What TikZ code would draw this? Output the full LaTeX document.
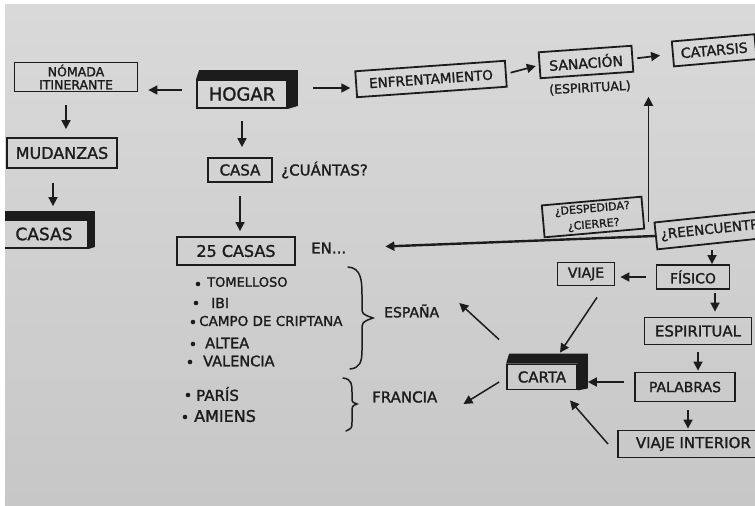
\documentclass[tikz,border=0pt]{standalone}
\usepackage{fontspec}
\setmainfont{DejaVu Sans}[UprightFeatures={FakeBold=1.5}]
\usetikzlibrary{arrows.meta,calc}
\definecolor{paper}{HTML}{D9D9D9}
\definecolor{paperdark}{HTML}{C7C7C7}
\definecolor{ink}{HTML}{1C1C1C}
\newcommand\fz[1]{\fontsize{#1}{#1}\selectfont}
\begin{document}
\begin{tikzpicture}[x=1pt,y=-1pt,
  box/.style={draw=ink, line width=1.8pt, inner sep=2pt, text=ink},
  lbl/.style={inner sep=0pt, text=ink},
  arr/.style={draw=ink, line width=1.7pt, -{Triangle[length=9pt,width=9pt]}},
  thinarr/.style={draw=ink, line width=1.5pt, -{Triangle[length=9pt,width=9pt]}},
  shadowfill/.style={fill=ink}]
\useasboundingbox (0,0) rectangle (755,506);
\fill[white] (0,0) rectangle (755,506);
\shade[top color=paper, bottom color=paperdark] (5,4) rectangle (755,506);

% ---------- left column ----------
\node[box, minimum width=123pt, minimum height=29pt, inner ysep=0pt, font=\fz{12.5}, align=center] (nomada) at (76,77) {NÓMADA\\[0.5pt]ITINERANTE};
\node[box, minimum width=110pt, minimum height=30pt, font=\fz{16}] (mudanzas) at (62,153) {MUDANZAS};
\node[box, minimum width=88pt, minimum height=28pt, font=\fz{17}] (casasl) at (44,234) {CASAS};
\fill[shadowfill] (casasl.north west) -- ([yshift=8pt]casasl.north west) -- ([xshift=6pt,yshift=8pt]casasl.north east) -- ([xshift=6pt,yshift=2pt]casasl.south east) -- (casasl.south east) -- (casasl.north east) -- cycle;

% ---------- top row ----------
\node[box, minimum width=90pt, minimum height=28pt, font=\fz{18}] (hogar) at (242,94) {HOGAR};
\fill[shadowfill] (hogar.north west) -- ([xshift=3pt,yshift=9pt]hogar.north west) -- ([xshift=10pt,yshift=9pt]hogar.north east) -- ([xshift=10pt,yshift=3pt]hogar.south east) -- (hogar.south east) -- (hogar.north east) -- cycle;
\node[box, rotate=4, minimum width=150pt, minimum height=26pt, font=\fz{13.5}] (enfr) at (431,79) {ENFRENTAMIENTO};
\node[box, rotate=4, minimum width=93pt, minimum height=26pt, font=\fz{14}] (sanacion) at (586,62) {SANACIÓN};
\node[lbl, rotate=3, font=\fz{12.5}] (espl) at (590,88) {(ESPIRITUAL)};
\node[box, rotate=5, anchor=west, minimum height=25pt, inner xsep=8pt, font=\fz{14}] (catarsis) at (672,54) {CATARSIS\hspace{30pt}};

% ---------- centre column ----------
\node[box, minimum width=64pt, minimum height=24pt, font=\fz{15}] (casa) at (240,170) {CASA};
\node[lbl, anchor=west, font=\fz{15}] (cuantas) at (281,170) {¿CUÁNTAS?};
\node[box, minimum width=118pt, minimum height=28pt, font=\fz{16}] (casas25) at (236,251) {25 CASAS};
\node[lbl, anchor=west, font=\fz{15}] (en) at (311,248) {EN...};

% ---------- lists ----------
\node[lbl, anchor=west, font=\fz{13}] (tom) at (207,282) {TOMELLOSO};
\node[lbl, anchor=west, font=\fz{14}] (ibi) at (211,303) {IBI};
\node[lbl, anchor=west, font=\fz{13.5}] (campo) at (199,321) {CAMPO DE CRIPTANA};
\node[lbl, anchor=west, font=\fz{14.5}] (altea) at (205,343) {ALTEA};
\node[lbl, anchor=west, font=\fz{14.5}] (valencia) at (203,361) {VALENCIA};
\node[lbl, anchor=west, font=\fz{15}] (paris) at (196,394) {PARÍS};
\node[lbl, anchor=west, font=\fz{16}] (amiens) at (194,416) {AMIENS};
\foreach \p in {(198,284),(196,303),(193,322),(193,344),(190,362),(188,395),(185,417)}
  \fill[ink] \p circle (2.3pt);
\node[lbl, anchor=west, font=\fz{14}] (espana) at (384,311) {ESPAÑA};
\node[lbl, anchor=west, font=\fz{15}] (francia) at (372,397) {FRANCIA};
% braces
\draw[ink, line width=1.5pt, line cap=round] (348,267) .. controls (361,268) and (362,280) .. (362,295) -- (362,307) .. controls (362,314) .. (373,318) .. controls (362,322) .. (362,331) -- (362,350) .. controls (362,362) and (360,368) .. (350,369);
\draw[ink, line width=1.5pt, line cap=round] (343,378) .. controls (352,379) and (352,385) .. (352,392) -- (352,398) .. controls (352,402) .. (357,404) .. controls (352,406) .. (352,412) -- (352,422) .. controls (352,428) .. (346,431);

% ---------- right column ----------
\node[box, rotate=5, minimum width=100pt, minimum height=32pt, inner ysep=1pt, font=\fz{11}, align=center] (despedida) at (593,217) {¿DESPEDIDA?\\[5pt]¿CIERRE?};
\node[box, rotate=6, anchor=west, minimum height=27pt, inner xsep=5pt, font=\fz{13.5}] (reenc) at (655,236) {¿REENCUENTRO?};
\node[box, minimum width=73pt, minimum height=24pt, font=\fz{14}] (fisico) at (693,277) {FÍSICO};
\node[box, minimum width=57pt, minimum height=23pt, font=\fz{14}] (viaje) at (586,274) {VIAJE};
\node[box, minimum width=107pt, minimum height=27pt, font=\fz{15}] (espiritual) at (698,331) {ESPIRITUAL};
\node[box, minimum width=100pt, minimum height=29pt, font=\fz{14}] (palabras) at (685,387) {PALABRAS};
\node[box, anchor=west, minimum height=27pt, inner xsep=18pt, font=\fz{15}] (viajeint) at (617,444) {VIAJE INTERIOR};
\node[box, minimum width=70pt, minimum height=25pt, font=\fz{15}] (carta) at (542,377) {CARTA};
\fill[shadowfill] (carta.north west) -- ([xshift=3pt,yshift=10pt]carta.north west) -- ([xshift=10pt,yshift=10pt]carta.north east) -- ([xshift=10pt,yshift=2pt]carta.south east) -- (carta.south east) -- (carta.north east) -- cycle;

% ---------- connectors ----------
\draw[arr, shorten <=14pt, shorten >=10pt] ([yshift=4pt]hogar.west) -- ([yshift=4pt]hogar.west -| nomada.east);
\draw[arr, shorten <=25pt, shorten >=5pt] ([yshift=6pt]hogar.east) -- ([yshift=6pt]hogar.east -| enfr.west);
\draw[arr, shorten <=4pt, shorten >=3pt] (enfr.east) -- (sanacion.west);
\draw[arr, shorten <=4pt, shorten >=12pt] (sanacion.east) -- (catarsis.west);
\draw[arr, shorten <=12pt, shorten >=10pt] (hogar.south) -- (hogar.south |- casa.north);
\draw[arr, shorten <=13pt, shorten >=5pt] (casa.south) -- (casa.south |- casas25.north);
\draw[arr, shorten <=13pt, shorten >=8pt] ([xshift=-10pt]nomada.south) -- ([xshift=-10pt]nomada.south |- mudanzas.north);
\draw[arr, shorten <=14pt, shorten >=13pt] ([xshift=-9pt]mudanzas.south) -- ([xshift=-9pt]mudanzas.south |- casasl.north);
\draw[arr, line width=2.4pt, shorten >=39pt] (reenc.west) -- (en.east);
\draw[arr, line width=1.8pt, shorten >=3pt] ([xshift=-5pt]reenc.north west) -- ([xshift=-5pt]reenc.north west |- espl.south);
\draw[arr] ([xshift=19pt]fisico.north |- reenc.south west) -- ([xshift=19pt]fisico.north);
\draw[arr, shorten <=10pt, shorten >=5pt] (fisico.west) -- (fisico.west -| viaje.east);
\draw[arr, shorten <=3pt, shorten >=5pt] ([xshift=22pt]fisico.south) -- ([xshift=22pt]fisico.south |- espiritual.north);
\draw[arr, shorten <=7pt, shorten >=1pt] (espiritual.south) -- (espiritual.south |- palabras.north);
\draw[arr, shorten <=10pt] ([yshift=5pt]palabras.west) -- ($([yshift=5pt]palabras.west -| carta.east)+(10,0)$);
\draw[arr, shorten <=8pt, shorten >=1pt] ([xshift=3pt]palabras.south) -- ([xshift=3pt]palabras.south |- viajeint.north);
\draw[thinarr] ([xshift=11pt,yshift=-11pt]viaje.south) -- ([xshift=18pt,yshift=11pt]carta.north);
\draw[thinarr] ([xshift=-9pt]viajeint.west) -- ([xshift=28pt,yshift=-10pt]carta.south);
\draw[thinarr] ([xshift=-7pt,yshift=24pt]carta.north west) -- ([xshift=20pt,yshift=8pt]espana.east);
\draw[thinarr] ([xshift=-7pt,yshift=-5pt]carta.west) -- ([xshift=26pt,yshift=-7pt]francia.east);

% white margins of the photo
\fill[white] (0,0) rectangle (5,506);
\fill[white] (0,0) rectangle (755,4);
\end{tikzpicture}
\end{document}
